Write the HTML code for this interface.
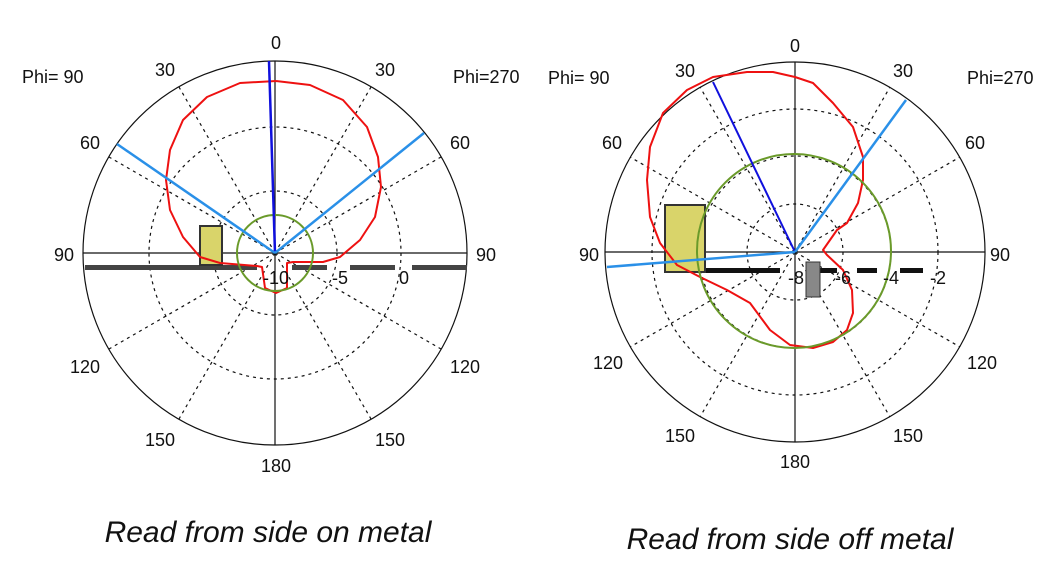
<!DOCTYPE html>
<html><head><meta charset="utf-8"><style>
body{margin:0;background:#fff;width:1062px;height:563px;overflow:hidden}
svg text{font-family:"Liberation Sans",sans-serif;font-size:18px;fill:#111}
.cap{font-style:italic;font-size:30px}
</style></head><body>
<svg width="1062" height="563" viewBox="0 0 1062 563">
<!-- LEFT PLOT -->
<g fill="none" stroke="#111" stroke-width="1.2">
<circle cx="275" cy="253" r="192"/>
<g stroke-dasharray="3,4">
<circle cx="275" cy="253" r="62"/>
<circle cx="275" cy="253" r="126"/>
<line x1="275" y1="253" x2="371" y2="87"/>
<line x1="275" y1="253" x2="441" y2="157"/>
<line x1="275" y1="253" x2="441" y2="349"/>
<line x1="275" y1="253" x2="371" y2="419"/>
<line x1="275" y1="253" x2="179" y2="419"/>
<line x1="275" y1="253" x2="109" y2="349"/>
<line x1="275" y1="253" x2="109" y2="157"/>
<line x1="275" y1="253" x2="179" y2="87"/>
</g>
<line x1="275" y1="61" x2="275" y2="445"/>
<line x1="83" y1="253" x2="467" y2="253"/>
</g>
<rect x="85" y="265" width="112" height="5" fill="#444"/>
<rect x="197" y="265" width="60" height="5" fill="#444"/>
<rect x="292" y="265" width="35" height="5" fill="#444"/>
<rect x="350" y="265" width="45" height="5" fill="#444"/>
<rect x="412" y="265" width="55" height="5" fill="#444"/>
<rect x="200" y="226" width="22" height="39" fill="#d9d46a" stroke="#333" stroke-width="2"/>
<polyline fill="none" stroke="#e11" stroke-width="2" stroke-linejoin="round" points="276,81 310,85 343,100 367,127 378,157 381,187 375,217 360,240 340,257 323,262 293,262 287,263 287,288 276,293 265,288 262,267 257,266 220,263 200,257 183,237 170,210 166,180 170,150 183,120 207,97 240,83 276,81"/>
<circle cx="275" cy="253" r="38" fill="none" stroke="#6a9a2a" stroke-width="2"/>
<line x1="275" y1="253" x2="269" y2="61" stroke="#1010dd" stroke-width="2.5"/>
<line x1="275" y1="253" x2="117" y2="144" stroke="#2a90e8" stroke-width="2.5"/>
<line x1="275" y1="253" x2="424" y2="133" stroke="#2a90e8" stroke-width="2.5"/>
<text x="276" y="284" text-anchor="middle">-10</text>
<text x="340" y="284" text-anchor="middle">-5</text>
<text x="404" y="284" text-anchor="middle">0</text>
<text x="276" y="49" text-anchor="middle">0</text>
<text x="165" y="76" text-anchor="middle">30</text>
<text x="385" y="76" text-anchor="middle">30</text>
<text x="22" y="83">Phi= 90</text>
<text x="453" y="83">Phi=270</text>
<text x="90" y="149" text-anchor="middle">60</text>
<text x="460" y="149" text-anchor="middle">60</text>
<text x="64" y="261" text-anchor="middle">90</text>
<text x="486" y="261" text-anchor="middle">90</text>
<text x="85" y="373" text-anchor="middle">120</text>
<text x="465" y="373" text-anchor="middle">120</text>
<text x="160" y="446" text-anchor="middle">150</text>
<text x="390" y="446" text-anchor="middle">150</text>
<text x="276" y="472" text-anchor="middle">180</text>
<text class="cap" x="268" y="542" text-anchor="middle">Read from side on metal</text>

<!-- RIGHT PLOT -->
<g fill="none" stroke="#111" stroke-width="1.2">
<circle cx="795" cy="252" r="190"/>
<g stroke-dasharray="3,4">
<circle cx="795" cy="252" r="48"/>
<circle cx="795" cy="252" r="96"/>
<circle cx="795" cy="252" r="143"/>
<line x1="795" y1="252" x2="890" y2="87"/>
<line x1="795" y1="252" x2="960" y2="157"/>
<line x1="795" y1="252" x2="960" y2="347"/>
<line x1="795" y1="252" x2="890" y2="417"/>
<line x1="795" y1="252" x2="700" y2="417"/>
<line x1="795" y1="252" x2="630" y2="347"/>
<line x1="795" y1="252" x2="630" y2="157"/>
<line x1="795" y1="252" x2="700" y2="87"/>
</g>
<line x1="795" y1="62" x2="795" y2="442"/>
<line x1="605" y1="252" x2="985" y2="252"/>
</g>
<rect x="665" y="268" width="115" height="5" fill="#111"/>
<rect x="820" y="268" width="17" height="5" fill="#111"/>
<rect x="857" y="268" width="20" height="5" fill="#111"/>
<rect x="900" y="268" width="23" height="5" fill="#111"/>
<rect x="665" y="205" width="40" height="67" fill="#d9d46a" stroke="#333" stroke-width="2"/>
<rect x="806" y="262" width="14" height="35" fill="#888" stroke="#333" stroke-width="1"/>
<polyline fill="none" stroke="#e11" stroke-width="2" stroke-linejoin="round" points="795,77 813,83 833,103 853,127 863,157 863,180 858,203 847,223 837,230 823,250 827,255 843,270 852,290 853,313 847,330 833,342 813,348 790,345 770,330 750,303 727,290 700,277 677,265 660,243 650,217 647,180 650,147 663,113 687,90 713,77 747,72 773,72 795,77"/>
<circle cx="794" cy="251" r="97" fill="none" stroke="#6a9a2a" stroke-width="2"/>
<line x1="795" y1="252" x2="713" y2="82" stroke="#1010dd" stroke-width="2"/>
<line x1="795" y1="252" x2="906" y2="100" stroke="#2a90e8" stroke-width="2.5"/>
<line x1="795" y1="252" x2="607" y2="267" stroke="#2a90e8" stroke-width="2.5"/>
<text x="796" y="284" text-anchor="middle">-8</text>
<text x="843" y="284" text-anchor="middle">-6</text>
<text x="891" y="284" text-anchor="middle">-4</text>
<text x="938" y="284" text-anchor="middle">-2</text>
<text x="795" y="52" text-anchor="middle">0</text>
<text x="685" y="77" text-anchor="middle">30</text>
<text x="903" y="77" text-anchor="middle">30</text>
<text x="548" y="84">Phi= 90</text>
<text x="967" y="84">Phi=270</text>
<text x="612" y="149" text-anchor="middle">60</text>
<text x="975" y="149" text-anchor="middle">60</text>
<text x="589" y="261" text-anchor="middle">90</text>
<text x="1000" y="261" text-anchor="middle">90</text>
<text x="608" y="369" text-anchor="middle">120</text>
<text x="982" y="369" text-anchor="middle">120</text>
<text x="680" y="442" text-anchor="middle">150</text>
<text x="908" y="442" text-anchor="middle">150</text>
<text x="795" y="468" text-anchor="middle">180</text>
<text class="cap" x="790" y="549" text-anchor="middle">Read from side off metal</text>
</svg>
</body></html>
